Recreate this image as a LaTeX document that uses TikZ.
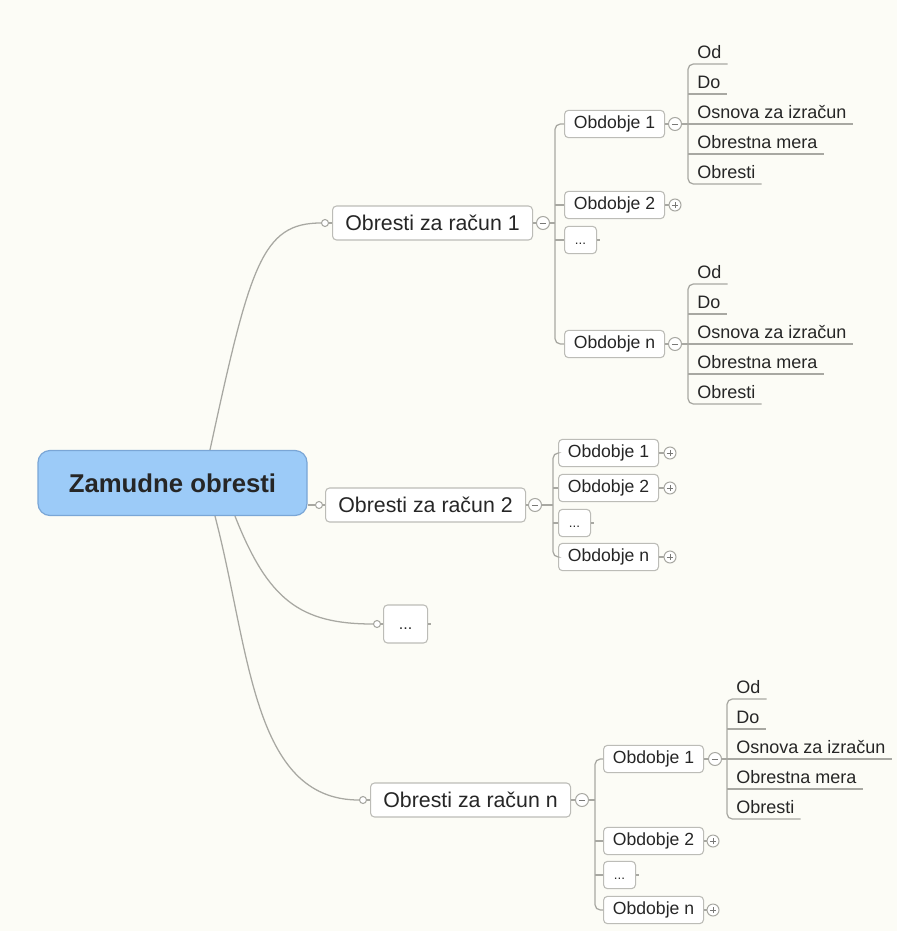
\documentclass[tikz,border=0pt]{standalone}
\usepackage{fontspec}
\setmainfont{Liberation Sans}
\usetikzlibrary{calc}
\definecolor{bg}{RGB}{252,252,246}
\definecolor{lin}{RGB}{168,168,162}
\definecolor{bord}{RGB}{188,188,183}
\definecolor{sym}{RGB}{120,120,118}
\definecolor{rootfill}{RGB}{156,203,248}
\definecolor{rootbord}{RGB}{122,166,214}
\definecolor{txt}{RGB}{38,38,38}
\begin{document}
\begin{tikzpicture}[x=0.75pt,y=-0.75pt,
  conn/.style={draw=lin, line width=0.95pt},
  box/.style={draw=bord, fill=white, rounded corners=3pt, line width=0.8pt, text=txt, inner sep=0pt, anchor=west},
  mainbox/.style={box, font=\fontsize{16}{18}\selectfont, minimum width=150pt, minimum height=25.5pt},
  perbox/.style={box, font=\fontsize{13.2}{15}\selectfont, minimum width=75pt, minimum height=20.5pt},
  sdots/.style={box, font=\fontsize{10}{12}\selectfont, minimum width=24pt, minimum height=20.5pt, text height=7pt, text depth=0pt},
  mdots/.style={box, font=\fontsize{12}{14}\selectfont, minimum width=33pt, minimum height=28.5pt, text height=8pt, text depth=0pt},
  rootbox/.style={draw=rootbord, fill=rootfill, rounded corners=9pt, line width=0.9pt, text=txt,
     font=\fontsize{19.3}{22}\selectfont\bfseries, minimum width=201.75pt, minimum height=48.75pt, inner sep=0pt},
  leaf/.style={anchor=south west, inner xsep=0pt, inner ysep=3.75pt, text depth=0pt, text=txt,
     font=\fontsize{13.5}{15}\selectfont, execute at begin node={\hspace*{6.75pt}}, execute at end node={\hspace*{4.5pt}}},
  inlet/.style={circle, draw=lin, fill=white, line width=0.8pt, minimum size=5.25pt, inner sep=0pt},
  minusc/.style={circle, draw=lin, fill=white, line width=0.75pt, minimum size=9.75pt, inner sep=0pt,
     path picture={\draw[sym, line width=0.6pt] ($(path picture bounding box.center)+(-2.4pt,0pt)$) -- ($(path picture bounding box.center)+(2.4pt,0pt)$);}},
  plusc/.style={circle, draw=lin, fill=white, line width=0.75pt, minimum size=9pt, inner sep=0pt,
     path picture={\draw[sym, line width=0.6pt] ($(path picture bounding box.center)+(-2.3pt,0pt)$) -- ($(path picture bounding box.center)+(2.3pt,0pt)$)
        ($(path picture bounding box.center)+(0pt,-2.3pt)$) -- ($(path picture bounding box.center)+(0pt,2.3pt)$);}}
]
\fill[bg] (0,0) rectangle (897,931);
\useasboundingbox (0,0) rectangle (897,931);

% root
\node[rootbox] (root) at (172.5,483) {Zamudne obresti};

% main nodes
\node[inlet] (i1) at (325,223) {};
\node[mainbox] (r1) at (332,223) {Obresti za račun 1};
\node[minusc] (m1) at (543,223) {};
\node[inlet] (i2) at (319,505) {};
\node[mainbox] (r2) at (325,505) {Obresti za račun 2};
\node[minusc] (m2) at (535,505) {};
\node[inlet] (id) at (377,624) {};
\node[mdots] (rd) at (383,624) {...};
\coordinate (rdstub) at (431,624);
\node[inlet] (in) at (363,800) {};
\node[mainbox] (rn) at (370,800) {Obresti za račun n};
\node[minusc] (mn) at (582,800) {};

% root connectors
\draw[conn] ($(root.north)+(37.5,0)$) .. controls (250,265) and (262,223) .. (i1.west);
\draw[conn] ($(root.east)+(0,22)$) -- (i2.west);
\draw[conn] ($(root.south)+(62.5,0)$) .. controls (268,600) and (300,624) .. (id.west);
\draw[conn] ($(root.south)+(42.5,0)$) .. controls (250,650) and (252,800) .. (in.west);
\draw[conn] (i1.east) -- (r1.west);
\draw[conn] (i2.east) -- (r2.west);
\draw[conn] (id.east) -- (rd.west);
\draw[conn] (in.east) -- (rn.west);
\draw[conn] (r1.east) -- (m1.west);
\draw[conn] (r2.east) -- (m2.west);
\draw[conn] (rn.east) -- (mn.west);
\draw[conn] (rd.east) -- (rdstub);

% ---- branch 1 ----
\coordinate (s1) at (555,223);
\node[perbox] (b11) at (564,124) {Obdobje 1};
\node[minusc] (mb11) at (675,124) {};
\node[perbox] (b12) at (564,205) {Obdobje 2};
\node[plusc] (pb12) at (675,205) {};
\node[sdots] (b13) at (564,240) {...};
\coordinate (b13stub) at (600,240);
\node[perbox] (b1n) at (564,344) {Obdobje n};
\node[minusc] (mb1n) at (675,344) {};
\draw[conn] (m1.east) -- (s1);
\draw[conn, rounded corners=4pt] (b11.west) -| (s1) |- (b1n.west);
\draw[conn] (b12.west) -- (b12.west -| s1);
\draw[conn] (b13.west) -- (b13.west -| s1);
\draw[conn] (b11.east) -- (mb11.west);
\draw[conn] (b12.east) -- (pb12.west);
\draw[conn] (b13.east) -- (b13stub);
\draw[conn] (b1n.east) -- (mb1n.west);

% leaves of Obdobje 1 (branch 1)
\node[leaf] (la1) at (688,64) {Od};
\node[leaf] (la2) at (688,94) {Do};
\node[leaf] (la3) at (688,124) {Osnova za izračun};
\node[leaf] (la4) at (688,154) {Obrestna mera};
\node[leaf] (la5) at (688,184) {Obresti};
\draw[conn, rounded corners=4pt] (la1.south east) -- (la1.south west) -- (la5.south west) -- (la5.south east);
\draw[conn] (la2.south west) -- (la2.south east);
\draw[conn] (la3.south west) -- (la3.south east);
\draw[conn] (la4.south west) -- (la4.south east);
\draw[conn] (mb11.east) -- (la3.south west);

% leaves of Obdobje n (branch 1)
\node[leaf] (lb1) at (688,284) {Od};
\node[leaf] (lb2) at (688,314) {Do};
\node[leaf] (lb3) at (688,344) {Osnova za izračun};
\node[leaf] (lb4) at (688,374) {Obrestna mera};
\node[leaf] (lb5) at (688,404) {Obresti};
\draw[conn, rounded corners=4pt] (lb1.south east) -- (lb1.south west) -- (lb5.south west) -- (lb5.south east);
\draw[conn] (lb2.south west) -- (lb2.south east);
\draw[conn] (lb3.south west) -- (lb3.south east);
\draw[conn] (lb4.south west) -- (lb4.south east);
\draw[conn] (mb1n.east) -- (lb3.south west);

% ---- branch 2 ----
\coordinate (s2) at (553,505);
\node[perbox] (b21) at (558,453) {Obdobje 1};
\node[plusc] (pb21) at (670,453) {};
\node[perbox] (b22) at (558,488) {Obdobje 2};
\node[plusc] (pb22) at (670,488) {};
\node[sdots] (b23) at (558,523) {...};
\coordinate (b23stub) at (594,523);
\node[perbox] (b2n) at (558,557) {Obdobje n};
\node[plusc] (pb2n) at (670,557) {};
\draw[conn] (m2.east) -- (s2);
\draw[conn, rounded corners=4pt] (b21.west) -| (s2) |- (b2n.west);
\draw[conn] (b22.west) -- (b22.west -| s2);
\draw[conn] (b23.west) -- (b23.west -| s2);
\draw[conn] (b21.east) -- (pb21.west);
\draw[conn] (b22.east) -- (pb22.west);
\draw[conn] (b23.east) -- (b23stub);
\draw[conn] (b2n.east) -- (pb2n.west);

% ---- branch n ----
\coordinate (sn) at (595,800);
\node[perbox] (bn1) at (603,759) {Obdobje 1};
\node[minusc] (mbn1) at (715,759) {};
\node[perbox] (bn2) at (603,841) {Obdobje 2};
\node[plusc] (pbn2) at (713,841) {};
\node[sdots] (bn3) at (603,875) {...};
\coordinate (bn3stub) at (639,875);
\node[perbox] (bnn) at (603,910) {Obdobje n};
\node[plusc] (pbnn) at (713,910) {};
\draw[conn] (mn.east) -- (sn);
\draw[conn, rounded corners=4pt] (bn1.west) -| (sn) |- (bnn.west);
\draw[conn] (bn2.west) -- (bn2.west -| sn);
\draw[conn] (bn3.west) -- (bn3.west -| sn);
\draw[conn] (bn1.east) -- (mbn1.west);
\draw[conn] (bn2.east) -- (pbn2.west);
\draw[conn] (bn3.east) -- (bn3stub);
\draw[conn] (bnn.east) -- (pbnn.west);

% leaves of Obdobje 1 (branch n)
\node[leaf] (lc1) at (727,699) {Od};
\node[leaf] (lc2) at (727,729) {Do};
\node[leaf] (lc3) at (727,759) {Osnova za izračun};
\node[leaf] (lc4) at (727,789) {Obrestna mera};
\node[leaf] (lc5) at (727,819) {Obresti};
\draw[conn, rounded corners=4pt] (lc1.south east) -- (lc1.south west) -- (lc5.south west) -- (lc5.south east);
\draw[conn] (lc2.south west) -- (lc2.south east);
\draw[conn] (lc3.south west) -- (lc3.south east);
\draw[conn] (lc4.south west) -- (lc4.south east);
\draw[conn] (mbn1.east) -- (lc3.south west);
\end{tikzpicture}
\end{document}
